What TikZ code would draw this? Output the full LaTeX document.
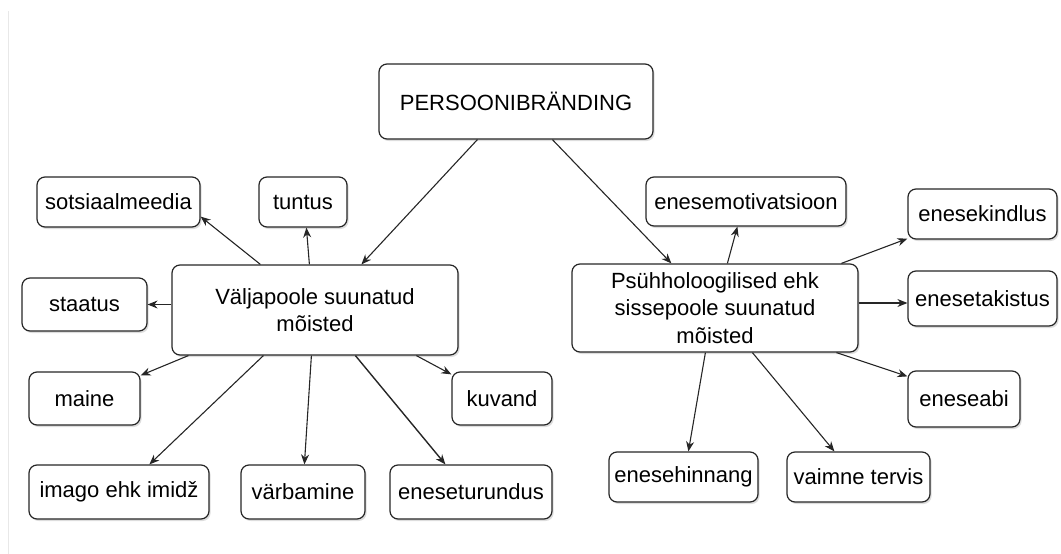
\documentclass[tikz,border=0pt]{standalone}
\usepackage{fontspec}
\setmainfont{Liberation Sans}
\usetikzlibrary{shadows,arrows.meta}
\begin{document}
\begin{tikzpicture}[x=1pt,y=-1pt,
  box/.style={draw=black!85, line width=1.2pt, rounded corners=8pt, fill=white,
    inner sep=0pt, align=center, font=\fontsize{22}{27.5}\selectfont,
    drop shadow={shadow xshift=1.6pt, shadow yshift=-2pt, opacity=0.22, fill=black!60}},
  conn/.style={draw=black!85, line width=1.1pt, -{Stealth[length=10pt,width=8pt]}}]
\useasboundingbox (0,0) rectangle (1061,554);
\draw[black!9, line width=1pt] (8,11) -- (8,554);
% nodes
\node[box, minimum width=274pt, minimum height=75pt] (P) at (516,101.5) {PERSOONIBRÄNDING};
\node[box, minimum width=286pt, minimum height=90pt] (V) at (315,310) {Väljapoole suunatud\\mõisted};
\node[box, minimum width=163pt, minimum height=50pt] (sm) at (118.5,202) {sotsiaalmeedia};
\node[box, minimum width=88pt, minimum height=50pt] (tu) at (303,202) {tuntus};
\node[box, minimum width=125pt, minimum height=53pt] (st) at (84.5,304.5) {staatus};
\node[box, minimum width=111pt, minimum height=53pt] (ma) at (84.5,398.5) {maine};
\node[box, minimum width=100pt, minimum height=53pt] (ku) at (502,398.5) {kuvand};
\node[box, minimum width=180pt, minimum height=54pt] (im) at (119,492) {imago ehk imidž};
\node[box, minimum width=124pt, minimum height=54pt] (vb) at (303,492) {värbamine};
\node[box, minimum width=162pt, minimum height=54pt] (et) at (471,492) {eneseturundus};
\node[box, minimum width=286pt, minimum height=88pt] (R) at (715,308) {Psühholoogilised ehk\\sissepoole suunatud\\mõisted};
\node[box, minimum width=200pt, minimum height=49pt] (em) at (746,201.5) {enesemotivatsioon};
\node[box, minimum width=149pt, minimum height=50pt] (ek) at (982.5,214) {enesekindlus};
\node[box, minimum width=149pt, minimum height=55pt] (eta) at (982.5,298.5) {enesetakistus};
\node[box, minimum width=112pt, minimum height=56pt] (ea) at (964,399) {eneseabi};
\node[box, minimum width=149pt, minimum height=50pt] (eh) at (683.5,477) {enesehinnang};
\node[box, minimum width=143pt, minimum height=50pt] (vt) at (858.5,477) {vaimne tervis};
% connectors
\draw[conn] ([xshift=99pt]P.south west) -- ([xshift=190pt]V.north west);
\draw[conn] ([xshift=174pt]P.south west) -- ([xshift=100pt]R.north west);
\draw[conn] ([xshift=89pt]V.north west) -- ([yshift=11pt]sm.south east);
\draw[conn] ([xshift=138pt]V.north west) -- ([xshift=48pt]tu.south west);
\draw[conn] (st.east -| V.west) -- (st.east);
\draw[conn] ([xshift=17pt]V.south west) -- ([yshift=-4pt]ma.north east);
\draw[conn] ([xshift=92pt]V.south west) -- ([xshift=121pt]im.north west);
\draw[conn] ([xshift=140pt]V.south west) -- ([xshift=64pt]vb.north west);
\draw[conn, line width=1.4pt] ([xshift=184pt]V.south west) -- ([xshift=56pt]et.north west);
\draw[conn] ([xshift=245pt]V.south west) -- ([yshift=-3pt]ku.north west);
\draw[conn] ([xshift=156pt]R.north west) -- ([xshift=92pt]em.south west);
\draw[conn] ([xshift=270pt]R.north west) -- ([yshift=1pt]ek.south west);
\draw[conn] ([yshift=-4.5pt]eta.west -| R.east) -- ([yshift=-4.5pt]eta.west);
\draw[conn] ([xshift=265pt]R.south west) -- ([yshift=-6pt]ea.north west);
\draw[conn] ([xshift=134pt]R.south west) -- ([xshift=80pt]eh.north west);
\draw[conn] ([xshift=181pt]R.south west) -- ([xshift=48pt]vt.north west);
\end{tikzpicture}
\end{document}
